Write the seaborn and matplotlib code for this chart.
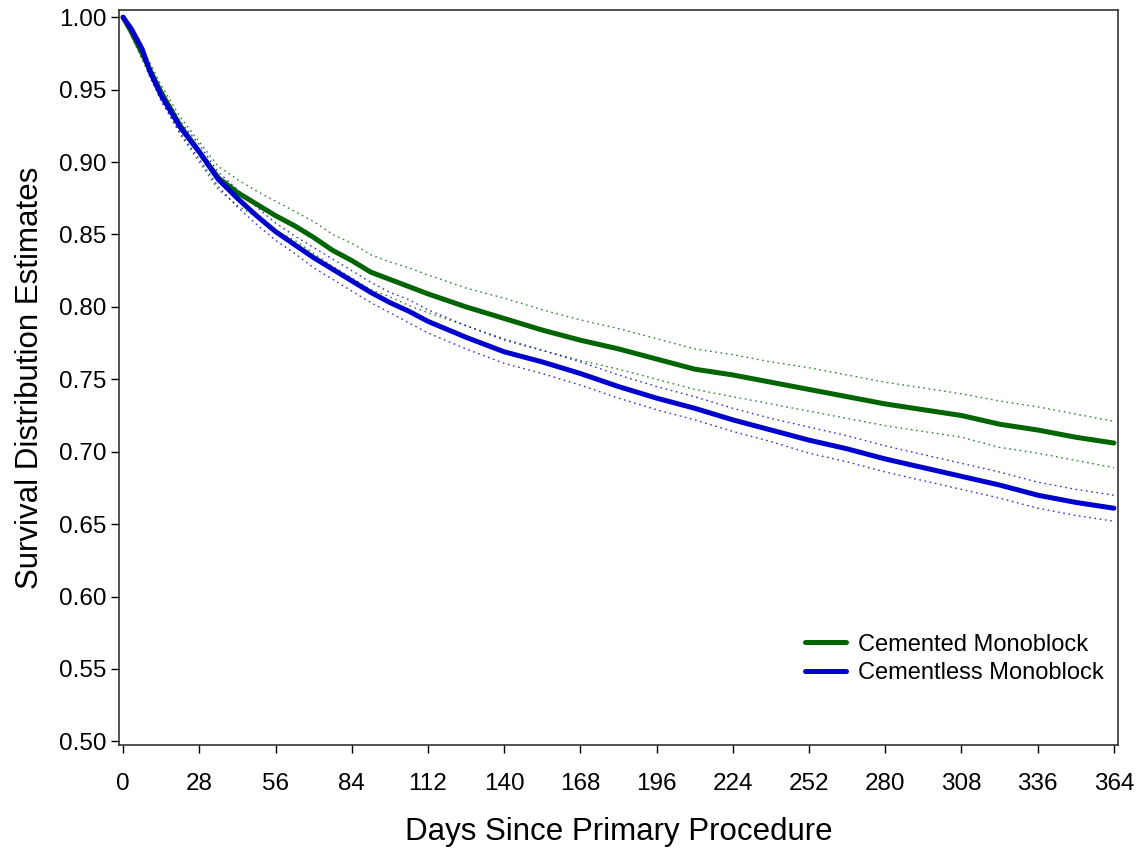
import numpy as np
import pandas as pd
import matplotlib
matplotlib.use("Agg")
import matplotlib.pyplot as plt
import seaborn as sns

# ---- data ----
days = [0, 3, 7, 10, 14, 21, 28, 35, 42, 49, 56, 63, 70, 77, 84, 91, 98, 105, 112,
        126, 140, 154, 168, 182, 196, 210, 224, 238, 252, 266, 280, 294, 308, 322,
        336, 350, 364]

cemented = [1.000, 0.990, 0.975, 0.963, 0.948, 0.925, 0.907, 0.889, 0.879, 0.871,
            0.863, 0.856, 0.848, 0.839, 0.832, 0.824, 0.819, 0.814, 0.809, 0.800,
            0.792, 0.784, 0.777, 0.771, 0.764, 0.757, 0.753, 0.748, 0.743, 0.738,
            0.733, 0.729, 0.725, 0.719, 0.715, 0.710, 0.706]
cemented_hi = [1.000, 0.993, 0.979, 0.968, 0.953, 0.931, 0.914, 0.897, 0.888, 0.880,
               0.873, 0.866, 0.859, 0.850, 0.844, 0.836, 0.831, 0.827, 0.822, 0.813,
               0.806, 0.798, 0.791, 0.785, 0.778, 0.771, 0.767, 0.762, 0.758, 0.753,
               0.748, 0.744, 0.740, 0.735, 0.731, 0.726, 0.721]
cemented_lo = [1.000, 0.987, 0.971, 0.958, 0.943, 0.919, 0.900, 0.881, 0.870, 0.862,
               0.853, 0.846, 0.837, 0.828, 0.820, 0.812, 0.807, 0.801, 0.796, 0.787,
               0.778, 0.770, 0.763, 0.757, 0.750, 0.743, 0.738, 0.733, 0.728, 0.723,
               0.718, 0.714, 0.710, 0.703, 0.699, 0.694, 0.689]

cementless = [1.000, 0.992, 0.978, 0.962, 0.946, 0.924, 0.907, 0.888, 0.875, 0.863,
              0.852, 0.843, 0.834, 0.826, 0.818, 0.810, 0.803, 0.797, 0.790, 0.779,
              0.769, 0.762, 0.754, 0.745, 0.737, 0.730, 0.722, 0.715, 0.708, 0.702,
              0.695, 0.689, 0.683, 0.677, 0.670, 0.665, 0.661]
cementless_hi = [1.000, 0.994, 0.981, 0.965, 0.950, 0.928, 0.912, 0.893, 0.881, 0.869,
                 0.858, 0.849, 0.841, 0.833, 0.825, 0.817, 0.810, 0.805, 0.798, 0.787,
                 0.777, 0.770, 0.762, 0.753, 0.745, 0.738, 0.730, 0.723, 0.717, 0.711,
                 0.704, 0.698, 0.692, 0.686, 0.679, 0.674, 0.670]
cementless_lo = [1.000, 0.990, 0.975, 0.959, 0.942, 0.920, 0.902, 0.883, 0.869, 0.857,
                 0.846, 0.837, 0.827, 0.819, 0.811, 0.803, 0.796, 0.789, 0.782, 0.771,
                 0.761, 0.754, 0.746, 0.737, 0.729, 0.722, 0.714, 0.707, 0.699, 0.693,
                 0.686, 0.680, 0.674, 0.668, 0.661, 0.656, 0.652]

groups = ["Cemented Monoblock", "Cementless Monoblock"]
x_ticks = list(range(0, 365, 28))
y_ticks = [0.50, 0.55, 0.60, 0.65, 0.70, 0.75, 0.80, 0.85, 0.90, 0.95, 1.00]

colors = {"Cemented Monoblock": "#006400", "Cementless Monoblock": "#0000CD"}

# ---- build frames ----
main = pd.DataFrame({
    "Days": days * 2,
    "Survival": cemented + cementless,
    "Group": [groups[0]] * len(days) + [groups[1]] * len(days),
})
bands = pd.DataFrame({
    "Days": days * 4,
    "Survival": cemented_hi + cemented_lo + cementless_hi + cementless_lo,
    "Group": [groups[0]] * (2 * len(days)) + [groups[1]] * (2 * len(days)),
    "Bound": (["hi"] * len(days) + ["lo"] * len(days)) * 2,
})

sns.set_theme(style="white")
plt.rcParams["font.family"] = ["Liberation Sans", "DejaVu Sans"]
plt.rcParams["text.color"] = "black"

fig = plt.figure(figsize=(11.41, 8.52), dpi=100)
ax = fig.add_axes([119 / 1141, 1 - 745 / 852, 999 / 1141, 735 / 852])

for g in groups:
    for b in ["hi", "lo"]:
        sub = bands[(bands.Group == g) & (bands.Bound == b)]
        sns.lineplot(data=sub, x="Days", y="Survival", ax=ax, color=colors[g],
                     linewidth=1.0, dashes=False, legend=False, errorbar=None,
                     alpha=0.8, linestyle=(0, (1.2, 2.6)))

sns.lineplot(data=main, x="Days", y="Survival", hue="Group", hue_order=groups,
             palette=colors, linewidth=3.6, errorbar=None, ax=ax)

ax.set_xlim(-1.5, 365.5)
ax.set_ylim(0.4975, 1.005)
ax.set_xticks(x_ticks)
ax.set_xticklabels([str(t) for t in x_ticks])
ax.set_yticks(y_ticks)
ax.set_yticklabels([f"{t:.2f}" for t in y_ticks])

ax.tick_params(axis="both", which="major", direction="out", length=6, width=1,
               color="black", labelsize=17.5, labelcolor="black")
ax.tick_params(axis="x", pad=14)
ax.tick_params(axis="y", pad=3)
ax.xaxis.set_ticks_position("bottom")
ax.yaxis.set_ticks_position("left")
for s in ax.spines.values():
    s.set_color("#333333")
    s.set_linewidth(1.2)

ax.set_xlabel("Days Since Primary Procedure", fontsize=22.5, color="black", labelpad=16)
ax.set_ylabel("Survival Distribution Estimates", fontsize=22.5, color="black", labelpad=10)

sns.move_legend(ax, "center left", bbox_to_anchor=((805 - 119) / 999, (745 - 659) / 735),
                frameon=False, title=None, fontsize=17, borderpad=0,
                borderaxespad=0, handlelength=1.75, handletextpad=0.5, labelspacing=0.28)
for t in ax.get_legend().get_texts():
    t.set_color("black")

fig.savefig("out.png", dpi=100)
